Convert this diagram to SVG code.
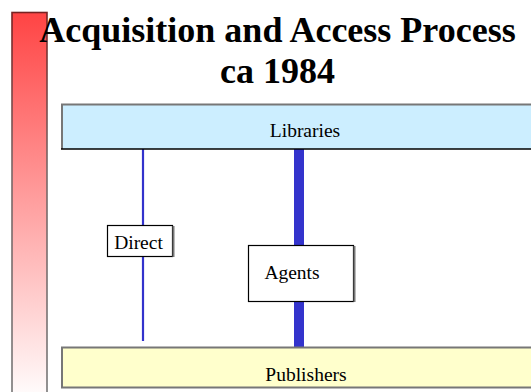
<svg xmlns="http://www.w3.org/2000/svg" width="531" height="392" viewBox="0 0 531 392">
  <defs>
    <linearGradient id="redfade" x1="0" y1="0" x2="0" y2="1">
      <stop offset="0" stop-color="#ff4444"/>
      <stop offset="1" stop-color="#ffffff"/>
    </linearGradient>
    <linearGradient id="rededge" x1="0" y1="0" x2="0" y2="1">
      <stop offset="0" stop-color="#772222"/>
      <stop offset="0.4" stop-color="#776666"/>
      <stop offset="1" stop-color="#777777"/>
    </linearGradient>
  </defs>
  <style>
    .title { font-family: "Liberation Serif", "Times New Roman", serif; font-weight: bold; font-size: 36px; fill: #000; text-anchor: middle; }
    .lbl { font-family: "Liberation Serif", "Times New Roman", serif; font-size: 19.5px; fill: #000; text-anchor: middle; }
    .edge { stroke: #777777; stroke-width: 2; fill: none; }
    .bottom { stroke: #000; stroke-width: 1.5; fill: none; }
    .conn { stroke: #3333cc; fill: none; }
    .lblbox { fill: #ffffff; stroke: #000; stroke-width: 1.2; }
  </style>

  <g id="sidebar">
    <rect x="12" y="12.5" width="35" height="390" fill="url(#redfade)" stroke="url(#rededge)" stroke-width="1.6"/>
  </g>

  <g id="title">
    <text class="title" x="277.5" y="42">Acquisition and Access Process</text>
    <text class="title" x="277.5" y="83">ca 1984</text>
  </g>

  <g id="connectors">
    <line class="conn" x1="143" y1="149" x2="143" y2="341" stroke-width="2.2"/>
    <line class="conn" x1="299" y1="149" x2="299" y2="347" stroke-width="10"/>
  </g>

  <g id="libraries">
    <rect x="61" y="104" width="480" height="45" fill="#cceeff"/>
    <polyline class="edge" points="62,149 62,104.5 535,104.5"/>
    <line class="bottom" x1="61" y1="149" x2="535" y2="149"/>
    <text class="lbl" x="305" y="137">Libraries</text>
  </g>

  <g id="publishers">
    <rect x="61" y="347" width="480" height="40" fill="#ffffcc"/>
    <polyline class="edge" points="62,387 62,347.5 535,347.5"/>
    <line class="edge" x1="61" y1="387.5" x2="535" y2="387.5"/>
    <text class="lbl" x="306" y="381">Publishers</text>
  </g>

  <g id="direct">
    <rect class="lblbox" x="107.5" y="225.5" width="65" height="31"/>
    <line class="edge" x1="173.5" y1="226" x2="173.5" y2="257" stroke-width="1"/>
    <text class="lbl" x="138.5" y="249">Direct</text>
  </g>

  <g id="agents">
    <rect class="lblbox" x="248.5" y="245.5" width="105" height="56"/>
    <line class="edge" x1="354.5" y1="246" x2="354.5" y2="302" stroke-width="1"/>
    <text class="lbl" x="292" y="279">Agents</text>
  </g>
</svg>
